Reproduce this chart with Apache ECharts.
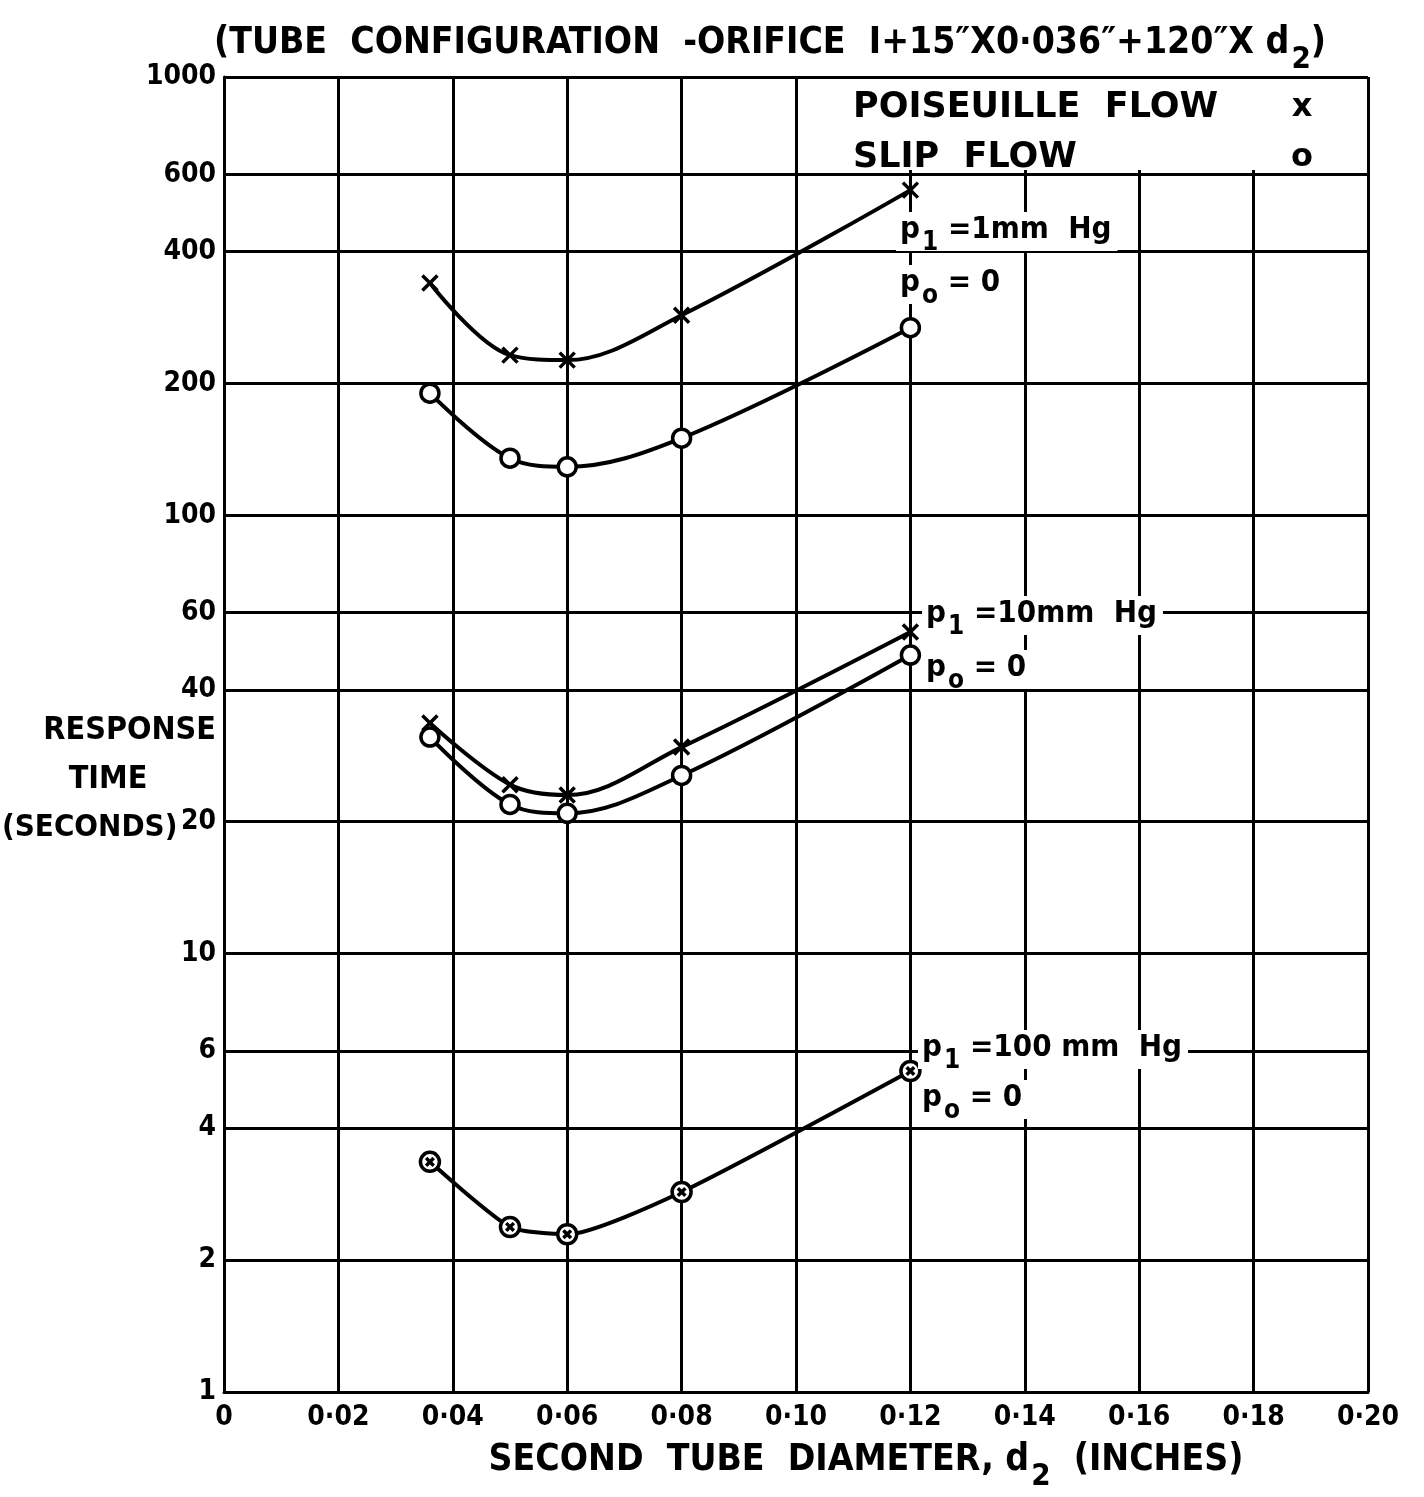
<html>
  <head>
    <meta charset="utf-8" />
    <script src="https://cdn.jsdelivr.net/npm/echarts@6.0.0/dist/echarts.min.js"></script>
    <style>
      body {
        margin: 0;
        background: #fff;
      }

      #main {
        width: 1424px;
        height: 1497px;
      }
    </style>
  </head>
  <body>
    <div id="main"></div>
    <script>
      // second tube diameter d2 (inches)
      const diameters = [0.036, 0.05, 0.06, 0.08, 0.12];

      // response time (seconds)
      const poiseuille1mm = [339, 232, 226, 286, 552];
      const slip1mm = [190, 135, 129, 150, 268];
      const poiseuille10mm = [33.6, 24.3, 23.0, 29.6, 54.2];
      const slip10mm = [31.2, 21.9, 20.9, 25.5, 48.0];
      const both100mm = [3.35, 2.38, 2.29, 2.86, 5.4];

      const yTicks = [1, 2, 4, 6, 10, 20, 40, 60, 100, 200, 400, 600, 1000];

      const FONT = 'DejaVu Sans Condensed';
      const crossPath = 'path://M0,0L10,10M10,0L0,10';
      const ringCrossPath =
        'path://M10,0A10,10,0,1,1,9.99,0ZM6,6L14,14M14,6L6,14';

      function pairs(ys) {
        return diameters.map((d, i) => [d, ys[i]]);
      }

      function curve(name, ys, symbol, size, smooth) {
        return {
          name: name,
          type: 'line',
          data: pairs(ys),
          smooth: smooth,
          symbol: symbol,
          symbolSize: size,
          showAllSymbol: true,
          z: 5,
          lineStyle: { color: '#000', width: 4 },
          itemStyle: { color: '#fff', borderColor: '#000', borderWidth: 3.5 },
          emphasis: { disabled: true },
        };
      }

      // label with a dropped subscript
      function subText(before, sub, after) {
        return '{t|' + before + '}{s|' + sub + '}{t|' + after + '}';
      }
      const subRich = (size) => ({
        t: {
          fontFamily: FONT,
          fontWeight: 'bold',
          fontSize: size,
          color: '#000',
          verticalAlign: 'top',
          lineHeight: size + 4,
        },
        s: {
          fontFamily: FONT,
          fontWeight: 'bold',
          fontSize: Math.round(size * 0.85),
          color: '#000',
          verticalAlign: 'top',
          lineHeight: size + 4,
          padding: [Math.round(size * 0.5), 0, 0, 2],
        },
      });

      function note(x, y, before, sub, after) {
        return {
          type: 'text',
          z: 50,
          style: {
            x: x,
            y: y,
            text: subText(before, sub, after),
            rich: subRich(31),
            fill: '#000',
            backgroundColor: '#fff',
            padding: [2, 6, 2, 4],
          },
        };
      }

      function label(x, y, text, size, align) {
        return {
          type: 'text',
          z: 50,
          style: {
            x: x, y: y, text: text, fill: '#000', align: align,
            font: 'bold ' + size + 'px ' + FONT, verticalAlign: 'middle',
          },
        };
      }

      const chart = echarts.init(document.getElementById('main'));

      chart.setOption({
        backgroundColor: '#fff',
        animation: false,
        grid: { left: 224, right: 56, top: 77, bottom: 105 },
        xAxis: {
          type: 'value',
          min: 0,
          max: 0.2,
          interval: 0.02,
          name: '{t|SECOND  TUBE  DIAMETER, d}{s|2}{t|  (INCHES)}',
          nameLocation: 'middle',
          nameGap: 50,
          nameTextStyle: { rich: subRich(37), padding: [0, 0, 0, 140] },
          axisLine: { lineStyle: { color: '#000', width: 3 } },
          axisTick: { show: false },
          axisLabel: {
            margin: 12,
            color: '#000',
            fontFamily: FONT,
            fontWeight: 'bold',
            fontSize: 28,
            formatter: (v) => (v === 0 ? '0' : v.toFixed(2).replace('.', '·')),
          },
          splitLine: { lineStyle: { color: '#000', width: 3 } },
        },
        yAxis: {
          type: 'log',
          logBase: 10,
          min: 1,
          max: 1000,
          axisLine: { show: true, lineStyle: { color: '#000', width: 3 } },
          axisTick: { show: false, customValues: yTicks },
          axisLabel: {
            margin: 8,
            color: '#000',
            fontFamily: FONT,
            fontWeight: 'bold',
            fontSize: 28,
            customValues: yTicks,
            formatter: (v) => String(v),
          },
          splitLine: { lineStyle: { color: '#000', width: 3 } },
        },
        series: [
          curve('POISEUILLE FLOW', poiseuille1mm, crossPath, 15, 0.35),
          curve('SLIP FLOW', slip1mm, 'circle', 18, 0.35),
          curve('POISEUILLE FLOW', poiseuille10mm, crossPath, 15, 0.35),
          curve('SLIP FLOW', slip10mm, 'circle', 18, 0.35),
          curve('BOTH', both100mm, ringCrossPath, 19, 0.2),
        ],
        graphic: [
          {
            type: 'text',
            z: 50,
            style: {
              x: 214,
              y: 25,
              text: subText('(TUBE  CONFIGURATION  -ORIFICE  I+15″X0·036″+120″X d', '2', ')'),
              rich: subRich(37),
              fill: '#000',
            },
          },
          {
            type: 'rect',
            z: 40,
            shape: { x: 846, y: 79, width: 520, height: 91 },
            style: { fill: '#fff' },
          },
          {
            type: 'text',
            z: 50,
            style: {
              x: 853, y: 108, text: 'POISEUILLE  FLOW', fill: '#000',
              font: 'bold 35px DejaVu Sans', verticalAlign: 'middle',
            },
          },
          {
            type: 'text',
            z: 50,
            style: {
              x: 1302, y: 108, text: 'x', fill: '#000', align: 'center',
              font: 'bold 32px DejaVu Sans', verticalAlign: 'middle',
            },
          },
          {
            type: 'text',
            z: 50,
            style: {
              x: 853, y: 158, text: 'SLIP  FLOW', fill: '#000',
              font: 'bold 35px DejaVu Sans', verticalAlign: 'middle',
            },
          },
          {
            type: 'text',
            z: 50,
            style: {
              x: 1302, y: 158, text: 'o', fill: '#000', align: 'center',
              font: 'bold 32px DejaVu Sans', verticalAlign: 'middle',
            },
          },
          note(896, 212, 'p', '1', ' =1mm  Hg'),
          note(896, 265, 'p', 'o', ' = 0'),
          note(922, 596, 'p', '1', ' =10mm  Hg'),
          note(922, 650, 'p', 'o', ' = 0'),
          note(918, 1030, 'p', '1', ' =100 mm  Hg'),
          note(918, 1080, 'p', 'o', ' = 0'),
          label(216, 731, 'RESPONSE', 32, 'right'),
          label(108, 780, 'TIME', 32, 'center'),
          label(2, 828, '(SECONDS)', 31, 'left'),
        ],
      });
    </script>
  </body>
</html>
